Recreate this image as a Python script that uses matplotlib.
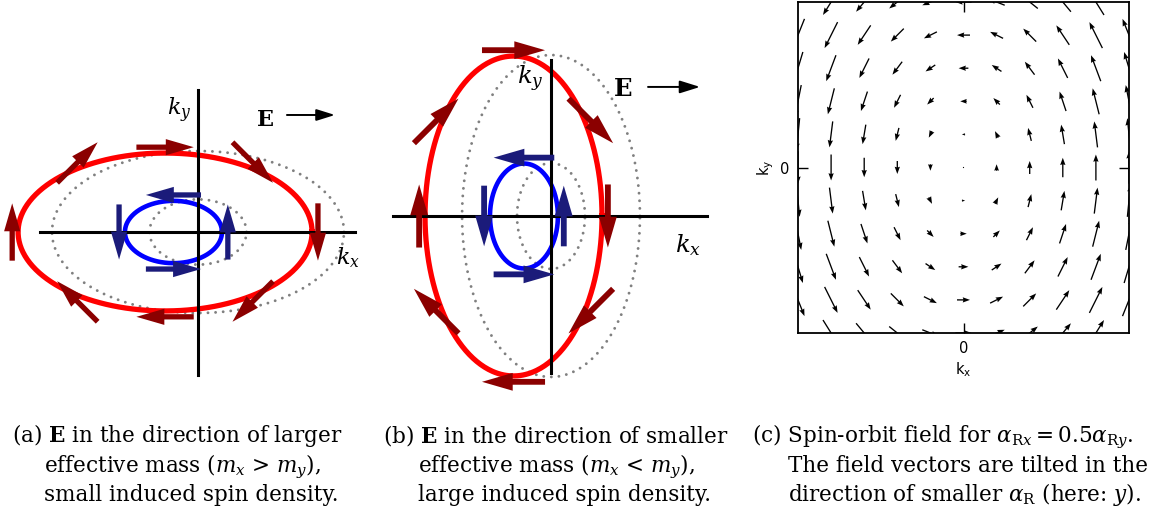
import numpy as np
import matplotlib
matplotlib.use("Agg")
import matplotlib.pyplot as plt

W, H = 1175, 513
plt.rcParams["mathtext.fontset"] = "dejavuserif"
plt.rcParams["font.family"] = ["DejaVu Serif"]

# ---------------------------------------------------------------- data
# Fermi contours as (centre k_x, semi-axis along k_x, semi-axis along k_y)
a_red = (-0.224, 1.000, 0.537)
a_blue = (-0.167, 0.330, 0.212)
a_ref_outer = (0.0, 0.993, 0.551)
a_ref_inner = (0.0, 0.330, 0.222)

b_red = (-0.255, 0.602, 1.088)
b_blue = (-0.184, 0.231, 0.357)
b_ref_outer = (0.0, 0.605, 1.095)
b_ref_inner = (0.0, 0.231, 0.360)

# spin arrows: contour parameter (deg) and arrow direction (deg)
a_red_t = [0, 55, 90, 125, 180, 235, 270, 305]
b_red_t = [0, 35, 90, 145, 180, 215, 270, 325]
red_dir = [270, 315, 0, 45, 90, 135, 180, 225]
blue_t = [0, 90, 180, 270]
blue_dir = [90, 180, 270, 0]

# spin-orbit field for alpha_Rx = 0.5 alpha_Ry
k_grid = [-5, -4, -3, -2, -1, 0, 1, 2, 3, 4, 5]
field_x_by_ky = [2.5, 2.0, 1.5, 1.0, 0.5, 0.0, -0.5, -1.0, -1.5, -2.0, -2.5]
field_y_by_kx = [-5, -4, -3, -2, -1, 0, 1, 2, 3, 4, 5]

# ---------------------------------------------------------------- styles
RED, DARKRED = "#ff0000", "#8b0000"
BLUE, NAVY = "#0000ff", "#1b1b7a"
GREY = "#808080"
SCALE = 147.0  # pixels per k unit in panels (a) and (b)

fig = plt.figure(figsize=(W / 100, H / 100), dpi=100)


def sketch_axes(x0, y0, x1, y1, ox, oy):
    ax = fig.add_axes([x0 / W, 1 - y1 / H, (x1 - x0) / W, (y1 - y0) / H])
    ax.set_xlim((x0 - ox) / SCALE, (x1 - ox) / SCALE)
    ax.set_ylim((oy - y1) / SCALE, (oy - y0) / SCALE)
    ax.axis("off")
    return ax


def ellipse(ax, c, **kw):
    t = np.linspace(0, 2 * np.pi, 400)
    ax.plot(c[0] + c[1] * np.cos(t), c[2] * np.sin(t), **kw)


def spin_arrows(ax, c, ts, dirs, length, color, k=1.0, off=0.04):
    for t, d in zip(ts, dirs):
        tr, dr = np.radians(t), np.radians(d)
        px = c[0] + (c[1] + off) * np.cos(tr)
        py = (c[2] + off) * np.sin(tr)
        dx, dy = length * np.cos(dr), length * np.sin(dr)
        ax.arrow(px - dx / 2, py - dy / 2, dx, dy, width=0.036 * k,
                 head_width=0.11 * k, head_length=0.19 * k,
                 length_includes_head=True, fc=color, ec="none", zorder=5)


dots = dict(color=GREY, lw=2.1, dashes=(0.01, 2.6), dash_capstyle="round", zorder=1)


def draw_panel(ax, red, blue, ref_o, ref_i, red_t, hx, vy, k, lab):
    ellipse(ax, ref_o, **dots)
    ellipse(ax, ref_i, **dots)
    ellipse(ax, red, color=RED, lw=3.8, zorder=2)
    ellipse(ax, blue, color=BLUE, lw=3.3, zorder=2)
    ax.plot(hx, [0, 0], color="k", lw=2.2, zorder=3)
    ax.plot([0, 0], vy, color="k", lw=2.2, zorder=3)
    spin_arrows(ax, red, red_t, red_dir, 0.39 * k, DARKRED, k)
    spin_arrows(ax, blue, blue_t, blue_dir, 0.375 * k, NAVY, k)
    fs = 16 * k
    ax.text(*lab["ky"], r"$k_y$", fontsize=fs, ha="center", va="center")
    ax.text(*lab["kx"], r"$k_x$", fontsize=fs, ha="center", va="center")
    ax.text(*lab["E"], "E", fontsize=fs, fontweight="bold",
            ha="center", va="center")
    (x0, x1, y) = lab["arrow"]
    ax.annotate("", xy=(x1, y), xytext=(x0, y),
                arrowprops=dict(arrowstyle="-|>,head_length=0.8,head_width=0.25",
                                mutation_scale=14 * k, lw=1.4, color="k",
                                shrinkA=0, shrinkB=0))


ax_a = sketch_axes(0, 30, 380, 400, 198, 232)
draw_panel(ax_a, a_red, a_blue, a_ref_outer, a_ref_inner, a_red_t,
           [-1.075, 1.068], [-0.973, 0.966], 1.0,
           {"ky": (-0.129, 0.830), "kx": (1.020, -0.177),
            "E": (0.456, 0.762), "arrow": (0.605, 0.932, 0.796)})

ax_b = sketch_axes(380, 20, 740, 400, 551, 216)
draw_panel(ax_b, b_red, b_blue, b_ref_outer, b_ref_inner, b_red_t,
           [-1.075, 1.061], [-1.068, 1.061], 1.1,
           {"ky": (-0.143, 0.932), "kx": (0.932, -0.197),
            "E": (0.490, 0.864), "arrow": (0.660, 1.014, 0.878)})

# ---------------------------------------------------------------- (c) field
ax_c = fig.add_axes([798 / W, 1 - 333 / H, 331 / W, 331 / H])
KX, KY = np.meshgrid(k_grid, k_grid)
U = np.array(field_x_by_ky, float)[:, None] * np.ones_like(KX)
V = np.array(field_y_by_kx, float)[None, :] * np.ones_like(KY)
ax_c.quiver(KX, KY, U, V, angles="xy", scale_units="xy", scale=5.1,
            pivot="middle", width=0.004, headwidth=4, headlength=5.5,
            headaxislength=5, color="k")
ax_c.set_xlim(-5, 5)
ax_c.set_ylim(-5, 5)
sans = dict(fontfamily="DejaVu Sans", fontsize=10.5)
ax_c.set_xticks([0], labels=["0"], **sans)
ax_c.set_yticks([0], labels=["0"], **sans)
ax_c.tick_params(direction="in", top=True, right=True, length=7, width=1,
                 pad=6)
ax_c.set_xlabel(r"$\mathrm{k_x}$", math_fontfamily="dejavusans", labelpad=3,
                **sans)
ax_c.set_ylabel(r"$\mathrm{k_y}$", math_fontfamily="dejavusans", labelpad=3,
                **sans)
for s in ax_c.spines.values():
    s.set_linewidth(1.3)

# ---------------------------------------------------------------- captions
cap_fs = 15.5
baselines = [442, 472, 501]
captions = [
    (12, 44, [r"(a) $\mathbf{E}$ in the direction of larger",
              r"effective mass ($m_x$ > $m_y$),",
              "small induced spin density."]),
    (383, 418, [r"(b) $\mathbf{E}$ in the direction of smaller",
                r"effective mass ($m_x$ < $m_y$),",
                "large induced spin density."]),
    (752, 788, [r"(c) Spin-orbit field for $\alpha_{\mathrm{R}x} = 0.5\alpha_{\mathrm{R}y}$.",
                "The field vectors are tilted in the",
                r"direction of smaller $\alpha_\mathrm{R}$ (here: $y$)."]),
]
for x_first, x_rest, lines in captions:
    for i, (line, yb) in enumerate(zip(lines, baselines)):
        fig.text((x_first if i == 0 else x_rest) / W, 1 - yb / H, line,
                 fontsize=cap_fs, ha="left", va="baseline")

fig.savefig("out.png", dpi=100)
